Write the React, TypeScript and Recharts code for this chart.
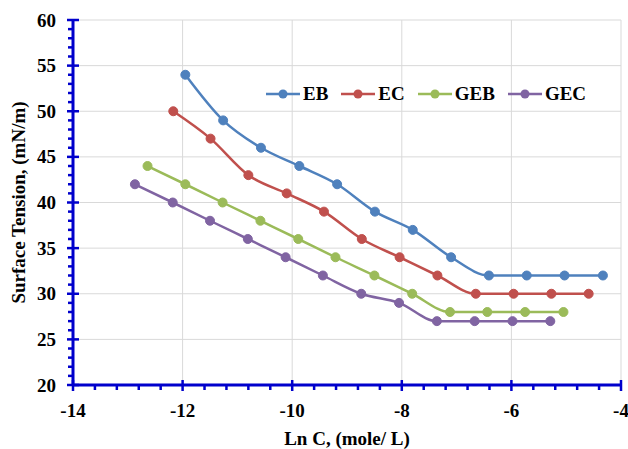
import {
  LineChart,
  Line,
  XAxis,
  YAxis,
  ReferenceLine,
  Label,
} from "recharts";

// Ln C values (mole/L) and surface tension (mN/m) for each surfactant
const ebLnC = [-11.95, -11.26, -10.57, -9.87, -9.18, -8.49, -7.8, -7.1, -6.41, -5.72, -5.03, -4.33];
const ebTension = [54, 49, 46, 44, 42, 39, 37, 34, 32, 32, 32, 32];

const ecLnC = [-12.17, -11.49, -10.8, -10.1, -9.42, -8.73, -8.04, -7.35, -6.65, -5.96, -5.27, -4.59];
const ecTension = [50, 47, 43, 41, 39, 36, 34, 32, 30, 30, 30, 30];

const gebLnC = [-12.64, -11.95, -11.27, -10.58, -9.89, -9.21, -8.5, -7.81, -7.12, -6.44, -5.75, -5.05];
const gebTension = [44, 42, 40, 38, 36, 34, 32, 30, 28, 28, 28, 28];

const gecLnC = [-12.87, -12.18, -11.5, -10.81, -10.12, -9.44, -8.74, -8.05, -7.36, -6.67, -5.98, -5.29];
const gecTension = [42, 40, 38, 36, 34, 32, 30, 29, 27, 27, 27, 27];

const xMajorTicks = [-14, -12, -10, -8, -6, -4];
const yMajorTicks = [20, 25, 30, 35, 40, 45, 50, 55, 60];
const xMinorStep = 0.4;
const yMinorStep = 1;

const series = [
  { name: "EB", color: "#4F81BD", x: ebLnC, y: ebTension },
  { name: "EC", color: "#C0504D", x: ecLnC, y: ecTension },
  { name: "GEB", color: "#9BBB59", x: gebLnC, y: gebTension },
  { name: "GEC", color: "#8064A2", x: gecLnC, y: gecTension },
];

const AXIS = "#0000CC";
const GRID = "#D9D9D9";
const FONT = '"Liberation Serif", "Times New Roman", serif';

const withMinor = (majors: number[], step: number) => {
  const out: number[] = [];
  const lo = majors[0];
  const hi = majors[majors.length - 1];
  const n = Math.round((hi - lo) / step);
  for (let i = 0; i <= n; i++) out.push(Number((lo + i * step).toFixed(4)));
  return out;
};

const xTicks = withMinor(xMajorTicks, xMinorStep);
const yTicks = withMinor(yMajorTicks, yMinorStep);

const isMajor = (v: number, majors: number[]) =>
  majors.some((m) => Math.abs(m - v) < 1e-6);

const XTick = (props: any) => {
  const { x, y, payload } = props;
  const major = isMajor(payload.value, xMajorTicks);
  return (
    <g>
      {major ? (
        <line x1={x} x2={x} y1={y - 5} y2={y + 6} stroke={AXIS} strokeWidth={2.5} />
      ) : (
        <line x1={x} x2={x} y1={y} y2={y + 5} stroke={AXIS} strokeWidth={2.5} />
      )}
      {major && (
        <text
          x={x}
          y={y + 25}
          textAnchor="middle"
          dominantBaseline="central"
          fontFamily={FONT}
          fontWeight="bold"
          fontSize={19}
          fill="#000"
        >
          {payload.value}
        </text>
      )}
    </g>
  );
};

const YTick = (props: any) => {
  const { x, y, payload } = props;
  const major = isMajor(payload.value, yMajorTicks);
  return (
    <g>
      {major ? (
        <line x1={x - 6} x2={x + 6} y1={y} y2={y} stroke={AXIS} strokeWidth={2.5} />
      ) : (
        <line x1={x - 5} x2={x} y1={y} y2={y} stroke={AXIS} strokeWidth={2.5} />
      )}
      {major && (
        <text
          x={x - 17}
          y={y}
          textAnchor="end"
          dominantBaseline="central"
          fontFamily={FONT}
          fontWeight="bold"
          fontSize={19}
          fill="#000"
        >
          {payload.value}
        </text>
      )}
    </g>
  );
};

const ChartLegend = () => (
  <div
    style={{
      position: "absolute",
      top: 84,
      left: 266,
      display: "flex",
      alignItems: "center",
      fontFamily: FONT,
      fontWeight: "bold",
      fontSize: 19,
      lineHeight: "19px",
    }}
  >
    {series.map((s) => (
      <div key={s.name} style={{ display: "flex", alignItems: "center", marginRight: 13 }}>
        <svg width={34} height={12} style={{ marginRight: 3 }}>
          <line x1={0} x2={34} y1={6} y2={6} stroke={s.color} strokeWidth={2.5} />
          <circle cx={17} cy={6} r={4.5} fill={s.color} />
        </svg>
        <span>{s.name}</span>
      </div>
    ))}
  </div>
);

export default function App() {
  return (
    <div style={{ position: "absolute", left: 0, top: 0, background: "#fff" }}>
      <LineChart width={628} height={449} margin={{ top: 20, right: 7, left: 0, bottom: 0 }}>
        <XAxis
          type="number"
          dataKey="x"
          domain={[-14, -4]}
          ticks={xTicks}
          interval={0}
          height={64}
          tickSize={0}
          tickMargin={0}
          tickLine={false}
          axisLine={false}
          tick={<XTick />}
          allowDuplicatedCategory={false}
        >
          <Label
            content={(p: any) => {
              const vb = p.viewBox;
              return (
                <text
                  x={vb.x + vb.width / 2}
                  y={vb.y + 53}
                  textAnchor="middle"
                  dominantBaseline="central"
                  fontFamily={FONT}
                  fontWeight="bold"
                  fontSize={19}
                  fill="#000"
                >
                  Ln C, (mole/ L)
                </text>
              );
            }}
          />
        </XAxis>
        <YAxis
          type="number"
          domain={[20, 60]}
          ticks={yTicks}
          interval={0}
          width={73}
          tickSize={0}
          tickMargin={0}
          tickLine={false}
          axisLine={false}
          tick={<YTick />}
        >
          <Label
            content={(p: any) => {
              const vb = p.viewBox;
              const cx = vb.x + 18;
              const cy = vb.y + vb.height / 2;
              return (
                <text
                  x={cx}
                  y={cy}
                  transform={`rotate(-90 ${cx} ${cy})`}
                  textAnchor="middle"
                  dominantBaseline="central"
                  fontFamily={FONT}
                  fontWeight="bold"
                  fontSize={19}
                  fill="#000"
                >
                  Surface Tension, (mN/m)
                </text>
              );
            }}
          />
        </YAxis>
        {xMajorTicks.slice(1).map((v) => (
          <ReferenceLine key={`gx${v}`} x={v} stroke={GRID} strokeWidth={1} />
        ))}
        {yMajorTicks.slice(1).map((v) => (
          <ReferenceLine key={`gy${v}`} y={v} stroke={GRID} strokeWidth={1} />
        ))}
        <ReferenceLine x={-14} stroke={AXIS} strokeWidth={3} />
        <ReferenceLine y={20} stroke={AXIS} strokeWidth={3} />
        {series.map((s) => (
          <Line
            key={s.name}
            name={s.name}
            data={s.x.map((x, i) => ({ x, y: s.y[i] }))}
            dataKey="y"
            type="monotone"
            stroke={s.color}
            strokeWidth={2.5}
            dot={{ r: 4.5, fill: s.color, stroke: s.color, strokeWidth: 1 }}
            isAnimationActive={false}
          />
        ))}
      </LineChart>
      <ChartLegend />
    </div>
  );
}
